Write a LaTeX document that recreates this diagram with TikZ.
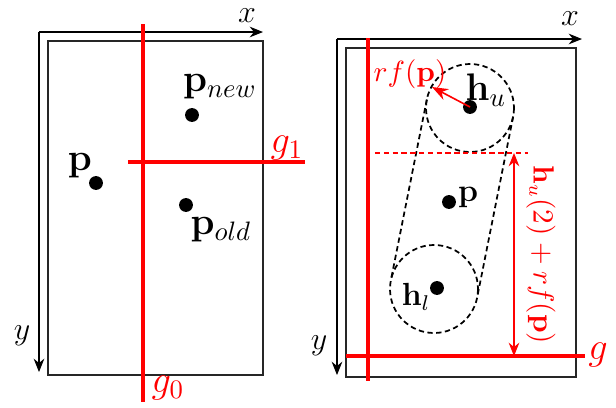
\documentclass[tikz,border=0pt]{standalone}
\usetikzlibrary{arrows.meta,calc}
\begin{document}
\begin{tikzpicture}[x=0.375pt,y=-0.375pt,
  frame/.style={draw=black!85,line width=0.8pt},
  axis/.style={draw=black,line width=0.4pt,-{Stealth[length=5pt,width=4pt]}},
  redline/.style={draw=red,line width=1.5pt},
  dot/.style={circle,fill=black,inner sep=0pt,minimum size=5.2pt},
  lbl/.style={inner sep=1pt,font=\large},
  big/.style={inner sep=1pt,font=\Large},
  rlbl/.style={inner sep=1pt,font=\Large,text=red},
  dsh/.style={draw=black,line width=0.65pt,dash pattern=on 2pt off 1.3pt}]
\useasboundingbox (0,0) rectangle (616,408);
% ---------- left panel ----------
\draw[frame] (48,41) rectangle (263,375);
\coordinate (Lo) at (39,32);
\coordinate (Lx) at (263,32);
\coordinate (Ly) at (39,372);
\draw[axis] (Lo) -- (Lx);
\draw[axis] (Lo) -- (Ly);
\node[lbl] (xl) at (247,16) {$x$};
\node[lbl] (yl) at (22,336) {$y$};
\coordinate (g0a) at (143,24);
\coordinate (g0b) at (143,402);
\coordinate (g1a) at (128,162);
\coordinate (g1b) at (305,162);
\draw[redline] (g0a) -- (g0b);
\draw[redline] (g1a) -- (g1b);
\node[rlbl] (g1l) at (287,148) {$g_1$};
\node[rlbl] (g0l) at (168,388) {$g_0$};
\node[dot] (pnew) at (192,115) {};
\node[big] (pnewl) at (220,87) {$\mathbf{p}_{new}$};
\node[dot] (pp) at (96,183) {};
\node[big] (ppl) at (80,166) {$\mathbf{p}$};
\node[dot] (pold) at (186,205) {};
\node[big] (poldl) at (221,230) {$\mathbf{p}_{old}$};
% ---------- right panel ----------
\draw[frame] (346,48) rectangle (576,377);
\coordinate (Ro) at (337,39);
\coordinate (Rx) at (582,39);
\coordinate (Ry) at (337,375);
\draw[axis] (Ro) -- (Rx);
\draw[axis] (Ro) -- (Ry);
\node[lbl] (xr) at (570,19) {$x$};
\node[lbl] (yr) at (319,346) {$y$};
\coordinate (ga) at (368,38);
\coordinate (gb) at (368,381);
\coordinate (gha) at (346,356);
\coordinate (ghb) at (585,356);
\draw[redline] (ga) -- (gb);
\draw[redline] (gha) -- (ghb);
\node[rlbl] (gl) at (598,355) {$g$};
% circles
\coordinate (hu) at (470,108);
\coordinate (hl) at (434,289);
\draw[dsh] (hu) circle (44);
\draw[dsh] (hl) circle (44);
\draw[dsh] ($(hu)!16.5pt!90:(hl)$) -- ($(hl)!16.5pt!-90:(hu)$);
\draw[dsh] ($(hu)!16.5pt!-90:(hl)$) -- ($(hl)!16.5pt!90:(hu)$);
\node[dot] (hud) at (470,107) {};
\node[dot] (hld) at (437,288) {};
\node[big] (hul) at (486,90) {$\mathbf{h}_u$};
\node[lbl] (hll) at (416,297) {$\mathbf{h}_l$};
\node[dot] (pr) at (449,202) {};
\node[lbl] (prl) at (468,197) {$\mathbf{p}$};
% rf(p) arrow
\coordinate (rfend) at (432,87);
\draw[draw=red,line width=0.6pt,-{Stealth[length=6pt,width=4.5pt]}] (hud.center) -- (rfend);
\node[inner sep=1pt,text=red,font=\fontsize{10.5}{12}\selectfont] (rfl) at (410,74) {$rf(\mathbf{p})$};
% dashed red line and dimension arrow
\coordinate (da) at (375,153);
\coordinate (db) at (528,153);
\draw[draw=red,line width=0.65pt,dash pattern=on 2pt off 1.3pt] (da) -- (db);
\coordinate (ta) at (514,153);
\coordinate (tb) at (514,356);
\draw[draw=red,line width=0.4pt,{Stealth[length=5pt,width=4pt]}-{Stealth[length=5pt,width=4pt]}] (ta) -- (tb);
\node[inner sep=1pt,text=red,rotate=-90,font=\fontsize{10.5}{12}\selectfont] (dim) at (541,255) {$\mathbf{h}_u(2)+rf(\mathbf{p})$};
\end{tikzpicture}
\end{document}
